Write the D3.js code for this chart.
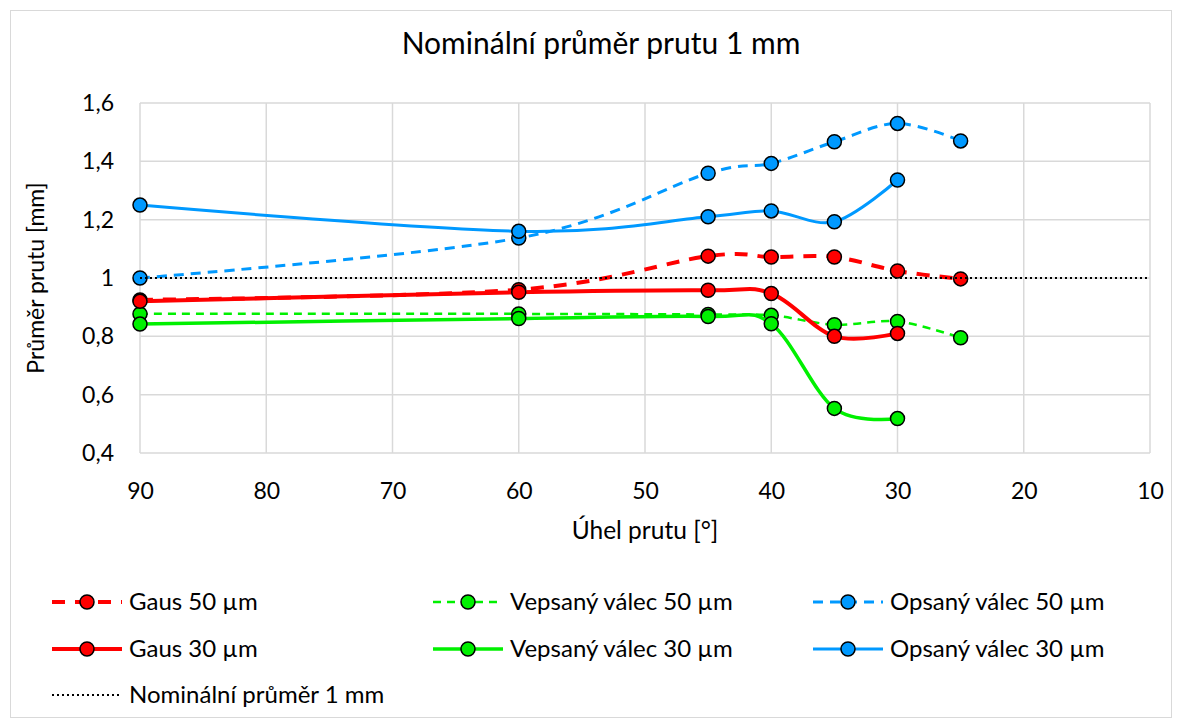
<!DOCTYPE html>
<html>
<head>
<meta charset="utf-8">
<script src="https://cdn.jsdelivr.net/npm/d3@7"></script>
<style>
  html, body { margin: 0; padding: 0; background: #fff; }
  svg { display: block; font-family: Lato, "Noto Sans", sans-serif; }
</style>
</head>
<body>
<svg id="chart" width="1182" height="728"></svg>
<script>
// ---- data ----
const angles50 = [90, 60, 45, 40, 35, 30, 25];
const angles30 = [90, 60, 45, 40, 35, 30];
const gaus50     = [0.925, 0.960, 1.075, 1.072, 1.072, 1.024, 0.997];
const vepsany50  = [0.877, 0.877, 0.875, 0.872, 0.840, 0.851, 0.795];
const opsany50   = [1.000, 1.137, 1.359, 1.393, 1.467, 1.530, 1.470];
const gaus30     = [0.920, 0.951, 0.958, 0.947, 0.800, 0.810];
const vepsany30  = [0.842, 0.861, 0.868, 0.843, 0.553, 0.518];
const opsany30   = [1.250, 1.160, 1.210, 1.230, 1.193, 1.336];
const nominalX   = [90, 10];
const nominalY   = [1, 1];
const xTicks = [90, 80, 70, 60, 50, 40, 30, 20, 10];
const yTicks = [0.4, 0.6, 0.8, 1.0, 1.2, 1.4, 1.6];
const titleText = "Nominální průměr prutu 1 mm";
const xTitle = "Úhel prutu [°]";
const yTitle = "Průměr prutu [mm]";

const RED = "#ff0000", GREEN = "#00f000", BLUE = "#0099ff";

const series = [
  {name: "Gaus 50 µm",          x: angles50, y: gaus50,    color: RED,   width: 4,   dash: "13,10", marker: true},
  {name: "Vepsaný válec 50 µm", x: angles50, y: vepsany50, color: GREEN, width: 2.5, dash: "8,6",   marker: true},
  {name: "Opsaný válec 50 µm",  x: angles50, y: opsany50,  color: BLUE,  width: 3,   dash: "10,7",  marker: true},
  {name: "Gaus 30 µm",          x: angles30, y: gaus30,    color: RED,   width: 4,   dash: null,    marker: true},
  {name: "Vepsaný válec 30 µm", x: angles30, y: vepsany30, color: GREEN, width: 3.5, dash: null,    marker: true},
  {name: "Opsaný válec 30 µm",  x: angles30, y: opsany30,  color: BLUE,  width: 3,   dash: null,    marker: true},
  {name: "Nominální průměr 1 mm", x: nominalX, y: nominalY, color: "#000", width: 2, dash: "2,3", marker: false, straight: true}
];

// ---- layout ----
const svg = d3.select("#chart");
const W = 1182, H = 728;
const plot = {left: 140, right: 1150, top: 103, bottom: 453};

svg.append("rect").attr("x", 10.5).attr("y", 10.5).attr("width", W - 21).attr("height", H - 21)
  .attr("fill", "#fff").attr("stroke", "#d9d9d9").attr("stroke-width", 1);

const x = d3.scaleLinear().domain([90, 10]).range([plot.left, plot.right]);
const y = d3.scaleLinear().domain([0.4, 1.6]).range([plot.bottom, plot.top]);

const loc = d3.formatLocale({decimal: ",", thousands: " ", grouping: [3], currency: ["", ""]});
const fmt = loc.format("~g");

// gridlines
const g = svg.append("g");
g.append("g").selectAll("line").data(yTicks).join("line")
  .attr("x1", plot.left).attr("x2", plot.right)
  .attr("y1", d => y(d)).attr("y2", d => y(d))
  .attr("stroke", "#d9d9d9").attr("stroke-width", 1.5);
g.append("g").selectAll("line").data(xTicks).join("line")
  .attr("y1", plot.top).attr("y2", plot.bottom)
  .attr("x1", d => x(d)).attr("x2", d => x(d))
  .attr("stroke", "#d9d9d9").attr("stroke-width", 1.5);

// axes (labels only)
const yAxis = svg.append("g").attr("transform", `translate(${plot.left},0)`)
  .call(d3.axisLeft(y).tickValues(yTicks).tickFormat(fmt).tickSize(0).tickPadding(26));
yAxis.select(".domain").remove();
yAxis.selectAll("text").attr("font-size", 23).attr("fill", "#000").attr("font-family", "Lato, 'Noto Sans', sans-serif");

const xAxis = svg.append("g").attr("transform", `translate(0,${plot.bottom})`)
  .call(d3.axisBottom(x).tickValues(xTicks).tickFormat(d3.format("d")).tickSize(0));
xAxis.select(".domain").remove();
xAxis.selectAll("text").attr("y", 38).attr("dy", "0.35em")
  .attr("font-size", 23).attr("fill", "#000").attr("font-family", "Lato, 'Noto Sans', sans-serif");

// titles
svg.append("text").attr("x", 601).attr("y", 54).attr("text-anchor", "middle")
  .attr("font-size", 30).attr("fill", "#000").text(titleText);
svg.append("text").attr("x", 645).attr("y", 530).attr("dy", "0.35em").attr("text-anchor", "middle")
  .attr("font-size", 24.5).attr("fill", "#000").text(xTitle);
svg.append("text").attr("transform", `translate(36,${(plot.top + plot.bottom) / 2}) rotate(-90)`)
  .attr("dy", "0.35em").attr("text-anchor", "middle")
  .attr("font-size", 23).attr("fill", "#000").text(yTitle);

// series
const smooth = d3.line().x(d => x(d[0])).y(d => y(d[1])).curve(d3.curveCatmullRom.alpha(0));
const straight = d3.line().x(d => x(d[0])).y(d => y(d[1]));
const sg = svg.append("g");
series.forEach(s => {
  const pts = s.x.map((v, i) => [v, s.y[i]]);
  const grp = sg.append("g");
  grp.append("path").attr("d", (s.straight ? straight : smooth)(pts))
    .attr("fill", "none").attr("stroke", s.color).attr("stroke-width", s.width)
    .attr("stroke-dasharray", s.dash);
  if (s.marker) {
    grp.selectAll("circle").data(pts).join("circle")
      .attr("cx", d => x(d[0])).attr("cy", d => y(d[1])).attr("r", 7)
      .attr("fill", s.color).attr("stroke", "#000").attr("stroke-width", 1.5);
  }
});

// legend
const legendPos = [
  [52, 602], [433, 602], [813, 602],
  [52, 649], [433, 649], [813, 649],
  [52, 695]
];
const lg = svg.append("g");
series.forEach((s, i) => {
  const [lx, ly] = legendPos[i];
  const item = lg.append("g").attr("transform", `translate(${lx},${ly})`);
  item.append("line").attr("x1", 0).attr("x2", 70).attr("y1", 0).attr("y2", 0)
    .attr("stroke", s.color).attr("stroke-width", s.width).attr("stroke-dasharray", s.dash);
  if (s.marker) {
    item.append("circle").attr("cx", 35).attr("cy", 0).attr("r", 7)
      .attr("fill", s.color).attr("stroke", "#000").attr("stroke-width", 1.5);
  }
  item.append("text").attr("x", 77).attr("y", 0).attr("dy", "0.35em")
    .attr("font-size", 24).attr("fill", "#000").text(s.name);
});
</script>
</body>
</html>
